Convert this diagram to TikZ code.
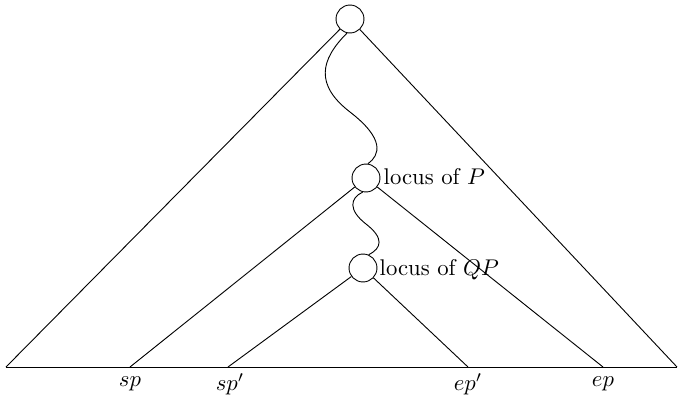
\documentclass[tikz,border=0pt]{standalone}
\begin{document}
\begin{tikzpicture}[x=0.44pt,y=-0.44pt,
  loc/.style={draw,circle,minimum size=12.3pt,inner sep=0pt},
  lab/.style={inner sep=1pt}]
\useasboundingbox (0,0) rectangle (679,397);
\node[loc] (T) at (350,19) {};
\node[loc] (P) at (366,178) {};
\node[loc] (Q) at (363,268) {};
\coordinate (L) at (6,367);
\coordinate (R) at (677,367);
\coordinate (sp) at (130,367);
\coordinate (spp) at (228,367);
\coordinate (epp) at (468,367);
\coordinate (ep) at (603,367);
\draw (L) -- (R);
\draw (T) -- (L);
\draw (T) -- (R);
\draw (P) -- (sp);
\draw (P) -- (ep);
\draw (Q) -- (spp);
\draw (Q) -- (epp);
\draw (T.-102) .. controls (320,60) and (315,85) .. (350,112) .. controls (385,139) and (380,155) .. (P.82);
\draw (P.-103) .. controls (350,198) and (348,210) .. (366,224) .. controls (384,238) and (382,248) .. (Q.67);
\node[lab,anchor=west] (lp) at (381,177) {locus of $P$};
\node[lab,anchor=west] (lq) at (377,270) {locus of $QP$};
\node[lab] (tsp) at (130,384) {$sp$};
\node[lab] (tspp) at (230,384) {$sp'$};
\node[lab] (tepp) at (468,384) {$ep'$};
\node[lab] (tep) at (603,384) {$ep$};
\end{tikzpicture}
\end{document}
